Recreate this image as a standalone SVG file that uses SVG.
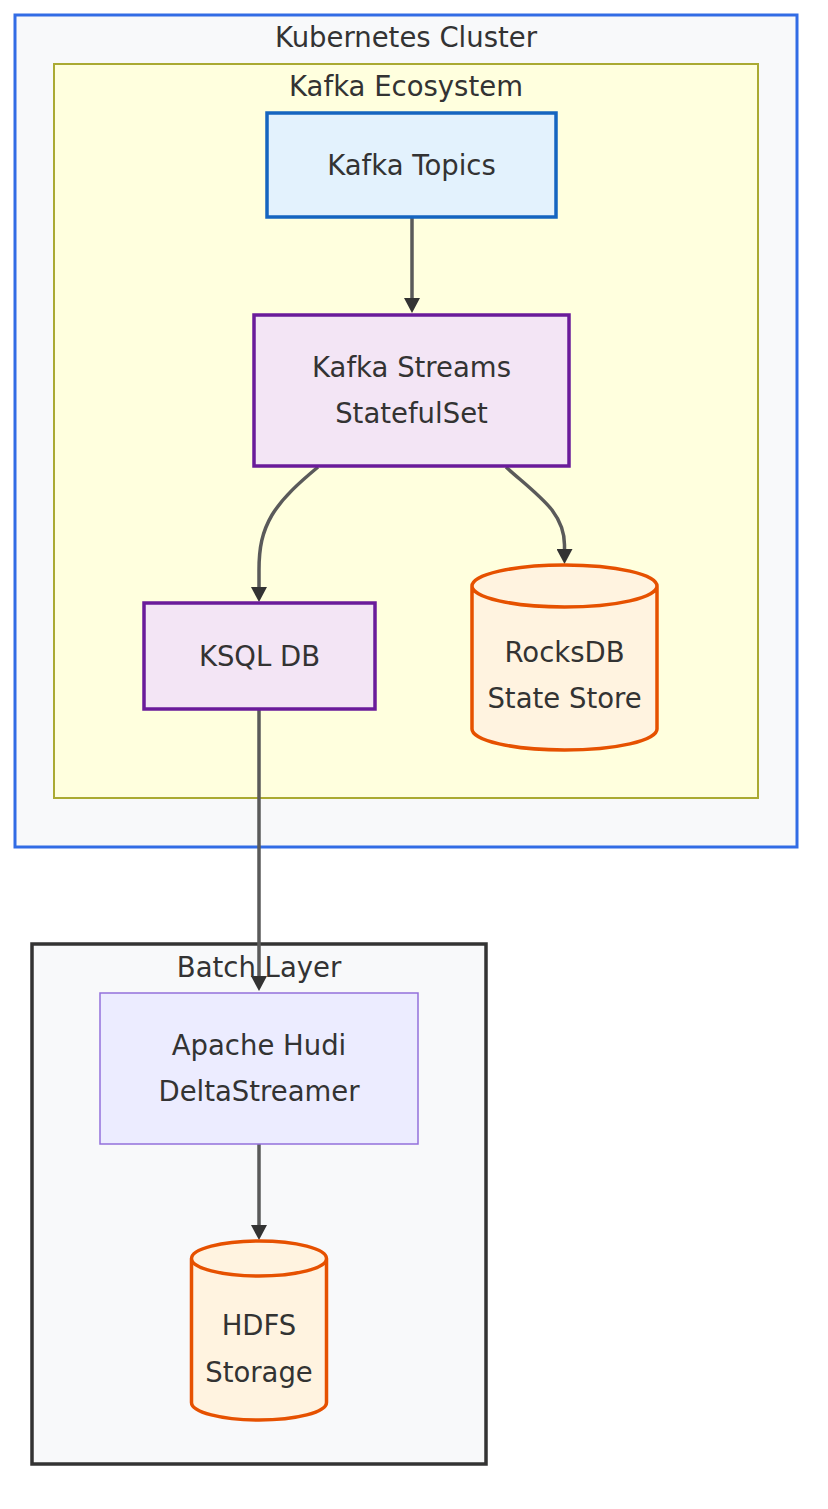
<svg xmlns="http://www.w3.org/2000/svg" width="828" height="1509" viewBox="0 0 828 1509">
<style>
text{font-family:"DejaVu Sans","Liberation Sans",sans-serif;font-size:27.5px;fill:#333333;text-anchor:middle}
.cluster-k8s{fill:#f8f9fa;stroke:#326ce5;stroke-width:3}
.cluster-kafka{fill:#ffffde;stroke:#aaaa33;stroke-width:2}
.cluster-batch{fill:#f8f9fa;stroke:#333333;stroke-width:3.5}
.topics{fill:#e3f2fd;stroke:#1565c0;stroke-width:3.5}
.proc{fill:#f3e5f5;stroke:#6a1b9a;stroke-width:3.5}
.default{fill:#ececff;stroke:#9370db;stroke-width:1.5}
.db{fill:#fff3e0;stroke:#e65100;stroke-width:3.5}
.edge{fill:none;stroke:#5a5a5a;stroke-width:3.5}
</style>
<defs>
<marker id="arrow" markerUnits="userSpaceOnUse" markerWidth="15" markerHeight="16" viewBox="0 0 15 16" refX="9" refY="8" orient="auto">
<path d="M0,0 L15,8 L0,16 z" fill="#333333"/>
</marker>
</defs>
<rect width="828" height="1509" fill="#ffffff"/>
<g id="cluster-kubernetes">
<rect class="cluster-k8s" x="15" y="15" width="782" height="832"/>
<text x="406" y="47">Kubernetes Cluster</text>
</g>
<g id="cluster-kafka-ecosystem">
<rect class="cluster-kafka" x="54" y="64" width="704" height="734"/>
<text x="406" y="96">Kafka Ecosystem</text>
</g>
<g id="cluster-batch-layer">
<rect class="cluster-batch" x="32" y="944" width="454" height="520"/>
<text x="259" y="977">Batch Layer</text>
</g>
<g id="connectors">
<path class="edge" d="M412,217 L412,307" marker-end="url(#arrow)"/>
<path class="edge" d="M318,467 C300,482 283,497 272,515 C262,532 259,548 259,570 L259,596" marker-end="url(#arrow)"/>
<path class="edge" d="M506,467 C520,480 540,495 552,510 C561,522 564.5,535 564.5,545 L564.5,558" marker-end="url(#arrow)"/>
<path class="edge" d="M259,709 L259,985" marker-end="url(#arrow)"/>
<path class="edge" d="M259,1144 L259,1234" marker-end="url(#arrow)"/>
</g>
<g id="node-kafka-topics">
<rect class="topics" x="267" y="113" width="289" height="104"/>
<text x="411.5" y="175">Kafka Topics</text>
</g>
<g id="node-kafka-streams">
<rect class="proc" x="254" y="315" width="315" height="151"/>
<text x="411.5" y="377">Kafka Streams</text>
<text x="411.5" y="423">StatefulSet</text>
</g>
<g id="node-ksql-db">
<rect class="proc" x="144" y="603" width="231" height="106"/>
<text x="259.5" y="666">KSQL DB</text>
</g>
<g id="node-rocksdb">
<path class="db" d="M472,586 a92.5,21 0 0,0 185,0 a92.5,21 0 0,0 -185,0 l0,143 a92.5,21 0 0,0 185,0 l0,-143"/>
<text x="564.5" y="662">RocksDB</text>
<text x="564.5" y="708">State Store</text>
</g>
<g id="node-apache-hudi">
<rect class="default" x="100" y="993" width="318" height="151"/>
<text x="259" y="1055">Apache Hudi</text>
<text x="259" y="1101">DeltaStreamer</text>
</g>
<g id="node-hdfs">
<path class="db" d="M191.5,1258.5 a67.5,17.5 0 0,0 135,0 a67.5,17.5 0 0,0 -135,0 l0,144 a67.5,17.5 0 0,0 135,0 l0,-144"/>
<text x="259" y="1335">HDFS</text>
<text x="259" y="1382">Storage</text>
</g>
</svg>
